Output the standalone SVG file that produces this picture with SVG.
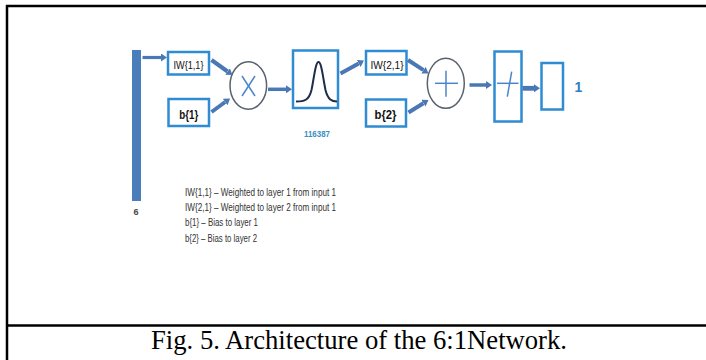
<svg xmlns="http://www.w3.org/2000/svg" width="706" height="360" viewBox="0 0 706 360">
<style>
.frame{stroke:#000;stroke-width:2.5;fill:none}
.box{fill:#fff;stroke:#2f8bd2;stroke-width:2.5}
.op{fill:#fff;stroke:#5a6270;stroke-width:1.5}
.sym{stroke:#4a86c8;stroke-width:1.5;fill:none}
.arr{stroke:#4a78b4;stroke-width:4;fill:none;marker-end:url(#ah)}
.lbl{font-family:"Liberation Sans",Arial,sans-serif;fill:#111;text-anchor:middle}
.leg{font-family:"Liberation Sans",Arial,sans-serif;font-size:10.5px;fill:#333}
</style>
<defs>
<marker id="ah" viewBox="0 0 6 8" refX="0" refY="4" markerWidth="6" markerHeight="8" markerUnits="userSpaceOnUse" orient="auto">
<path d="M0,0 L6,4 L0,8 z" fill="#4a78b4"/>
</marker>
</defs>
<rect width="706" height="360" fill="#fff"/>
<g id="frame">
<line class="frame" x1="6" y1="6" x2="706" y2="6"/>
<line class="frame" x1="7" y1="5" x2="7" y2="360"/>
<line class="frame" x1="7" y1="325.5" x2="706" y2="325.5"/>
</g>
<g id="input">
<rect x="132" y="50" width="9" height="151" fill="#4a7ebb"/>
<text x="136" y="215" font-family="Liberation Sans,Arial,sans-serif" font-size="9" font-weight="bold" fill="#444" text-anchor="middle">6</text>
</g>
<g id="iw11">
<rect class="box" x="168" y="52" width="41" height="22.5"/>
<text class="lbl" x="188.5" y="68.5" font-size="11.5" textLength="30" lengthAdjust="spacingAndGlyphs">IW{1,1}</text>
</g>
<g id="b1">
<rect class="box" x="168.5" y="99" width="40.5" height="27"/>
<text class="lbl" x="188.8" y="118.5" font-size="13.5" font-weight="bold" textLength="19" lengthAdjust="spacingAndGlyphs">b{1}</text>
</g>
<g id="mult">
<ellipse class="op" cx="248.3" cy="85.5" rx="18.3" ry="23.8"/>
<line class="sym" x1="242" y1="76" x2="255" y2="96"/>
<line class="sym" x1="255" y1="76" x2="242" y2="96"/>
</g>
<g id="radbas">
<rect class="box" x="293" y="50.5" width="45" height="57.5"/>
<path d="M296,101.5 C305,101.5 309,100 311.5,90 C314,78 315.5,62 318.5,62 C321.5,62 323,78 325.5,90 C328,100 332,101.5 337,101.5" fill="none" stroke="#1f2d4a" stroke-width="2"/>
<text x="317" y="136.5" font-family="Liberation Sans,Arial,sans-serif" font-size="9" font-weight="bold" fill="#3a8fc0" text-anchor="middle" textLength="26" lengthAdjust="spacingAndGlyphs">116387</text>
</g>
<g id="iw21">
<rect class="box" x="366" y="51" width="40.5" height="23.5"/>
<text class="lbl" x="387" y="68.5" font-size="11.5" textLength="33" lengthAdjust="spacingAndGlyphs">IW{2,1}</text>
</g>
<g id="b2">
<rect class="box" x="366" y="99.5" width="40" height="27"/>
<text class="lbl" x="385.5" y="119.3" font-size="13.5" font-weight="bold" textLength="22" lengthAdjust="spacingAndGlyphs">b{2}</text>
</g>
<g id="sum">
<ellipse class="op" cx="445.8" cy="83.3" rx="18.5" ry="25"/>
<line class="sym" x1="435" y1="83.3" x2="458" y2="83.3"/>
<line class="sym" x1="446" y1="70.7" x2="446" y2="96.7"/>
</g>
<g id="purelin">
<rect class="box" x="494.5" y="51.5" width="27" height="70"/>
<line class="sym" x1="497" y1="83.3" x2="518.5" y2="83.3"/>
<line class="sym" x1="507.3" y1="96.7" x2="511.7" y2="71.7"/>
</g>
<g id="output">
<rect class="box" x="541.5" y="63" width="21.5" height="46.5"/>
<text x="578.5" y="92" font-family="Liberation Sans,Arial,sans-serif" font-size="14" font-weight="bold" fill="#2f7fc0" text-anchor="middle">1</text>
</g>
<g id="connectors">
<line class="arr" x1="142.5" y1="57.5" x2="161" y2="57.5" style="stroke-width:3.2"/>
<line class="arr" x1="211.5" y1="60" x2="227.6" y2="71.5"/>
<line class="arr" x1="211.5" y1="112" x2="225.2" y2="102"/>
<line class="arr" x1="268" y1="89.3" x2="286" y2="89.3" style="stroke-width:3.5"/>
<line class="arr" x1="340.5" y1="73.5" x2="358.7" y2="63.4"/>
<line class="arr" x1="408" y1="60" x2="423.5" y2="70.2"/>
<line class="arr" x1="408.5" y1="112.5" x2="423.4" y2="103.2"/>
<line class="arr" x1="469.5" y1="85" x2="486" y2="85" style="stroke-width:3.5"/>
<line class="arr" x1="522.5" y1="88.3" x2="534" y2="88.3" style="stroke-width:4.8"/>
</g>
<g id="legend">
<text class="leg" x="185" y="196" textLength="151" lengthAdjust="spacingAndGlyphs">IW{1,1} – Weighted to layer 1 from input 1</text>
<text class="leg" x="185" y="210.5" textLength="151" lengthAdjust="spacingAndGlyphs">IW{2,1} – Weighted to layer 2 from input 1</text>
<text class="leg" x="185" y="226" textLength="73" lengthAdjust="spacingAndGlyphs">b{1} – Bias to layer 1</text>
<text class="leg" x="185" y="241.5" textLength="72" lengthAdjust="spacingAndGlyphs">b{2} – Bias to layer 2</text>
</g>
<g id="caption">
<text x="151" y="349" font-family="Liberation Serif,'Times New Roman',serif" font-size="26.5" fill="#000" textLength="416" lengthAdjust="spacingAndGlyphs">Fig. 5. Architecture of the 6:1Network.</text>
</g>
</svg>
